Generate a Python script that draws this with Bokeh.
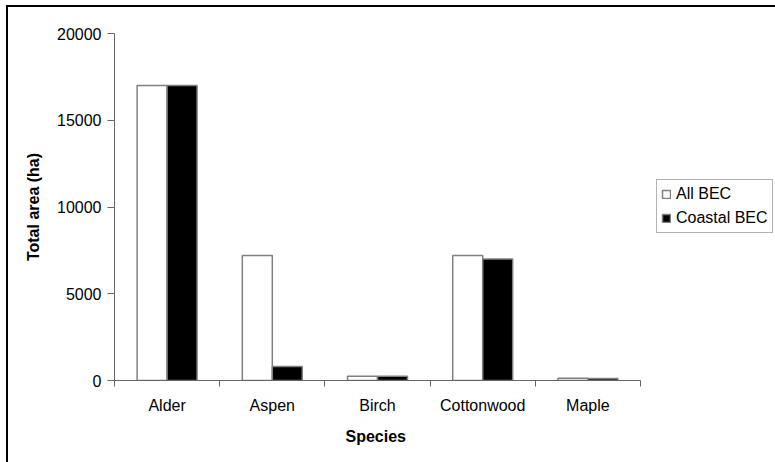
import numpy as np
from bokeh.plotting import figure
from bokeh.models import Range1d, FixedTicker, Legend, LegendItem, InlineStyleSheet, ColumnDataSource, Title
from bokeh.embed import file_html
from bokeh.resources import INLINE

species = ["Alder", "Aspen", "Birch", "Cottonwood", "Maple"]
all_bec = [17000, 7200, 250, 7200, 130]
coastal_bec = [17000, 800, 250, 7000, 120]
y_ticks = [0, 5000, 10000, 15000, 20000]
series_names = ["All BEC", "Coastal BEC"]
x_title = "Species"
y_title = "Total area (ha)"

FONT = "Liberation Sans"

n = len(species)
xc = np.arange(n) + 0.5
bw = 0.285
src = ColumnDataSource(dict(
    x1=xc - bw / 2, x2=xc + bw / 2, a=all_bec, c=coastal_bec, sp=species))

css = InlineStyleSheet(css="""
:host { position: relative; }
:host::after { content: ""; position: absolute; left: 6px; top: 5px; right: 0; bottom: 0;
  border-left: 2px solid #000; border-top: 2px solid #000; pointer-events: none; }
""")

# frame spans from the y axis to the right edge; the category axis covers 526 of its 661 px
x_end = n * 661.0 / 526.0
p = figure(width=775, height=462, x_range=Range1d(0, x_end), y_range=Range1d(0, 20000),
           output_backend="svg", toolbar_location=None,
           min_border_left=114, min_border_right=0, min_border_top=33, min_border_bottom=82,
           stylesheets=[css])
p.background_fill_color = "white"
p.border_fill_color = "white"
p.outline_line_color = None
p.xgrid.visible = False
p.ygrid.visible = False

r1 = p.vbar(x="x1", top="a", width=bw, source=src, fill_color="white", line_color="#808080", line_width=1.5)
r2 = p.vbar(x="x2", top="c", width=bw, source=src, fill_color="black", line_color="#808080", line_width=1.5)

xa = p.xaxis[0]
xa.bounds = (0, n)
xa.ticker = FixedTicker(ticks=list(xc), minor_ticks=list(range(n + 1)))
xa.major_label_overrides = {float(v): s for v, s in zip(xc, species)}
xa.major_tick_out = 0
xa.major_tick_in = 0
xa.minor_tick_out = 6
xa.minor_tick_in = 0
xa.minor_tick_line_color = "#666666"
xa.axis_line_color = "#666666"
xa.major_label_standoff = 10
xa.major_label_text_font = FONT
xa.major_label_text_font_size = "16px"
xa.major_label_text_color = "black"

# x axis title centred under the category axis (which spans 526 px of the frame)
xt = Title(text=x_title, align="left", offset=231, standoff=18,
           text_font=FONT, text_font_size="16px", text_font_style="bold", text_color="black")
p.add_layout(xt, "below")

ya = p.yaxis[0]
ya.ticker = FixedTicker(ticks=y_ticks)
ya.minor_tick_line_color = None
ya.major_tick_out = 7
ya.major_tick_in = 0
ya.major_tick_line_color = "#666666"
ya.axis_line_color = "#666666"
ya.major_label_standoff = 6
ya.major_label_text_font = FONT
ya.major_label_text_font_size = "16px"
ya.major_label_text_color = "black"
ya.axis_label = y_title
ya.axis_label_text_font = FONT
ya.axis_label_text_font_size = "16px"
ya.axis_label_text_font_style = "bold"
ya.axis_label_text_color = "black"
ya.axis_label_standoff = 12

legend = Legend(items=[LegendItem(label=series_names[0], renderers=[r1]),
                       LegendItem(label=series_names[1], renderers=[r2])],
                location=(542, 147), orientation="vertical")
legend.label_text_font = FONT
legend.label_text_font_size = "16px"
legend.label_text_color = "black"
legend.glyph_width = 10
legend.glyph_height = 10
legend.label_height = 20
legend.label_standoff = 5
legend.spacing = 4
legend.padding = 4
legend.margin = 0
legend.border_line_color = "#666666"
legend.border_line_width = 1
legend.background_fill_color = "white"
legend.background_fill_alpha = 1
p.add_layout(legend)

open("out.html", "w").write(file_html(p, INLINE))
